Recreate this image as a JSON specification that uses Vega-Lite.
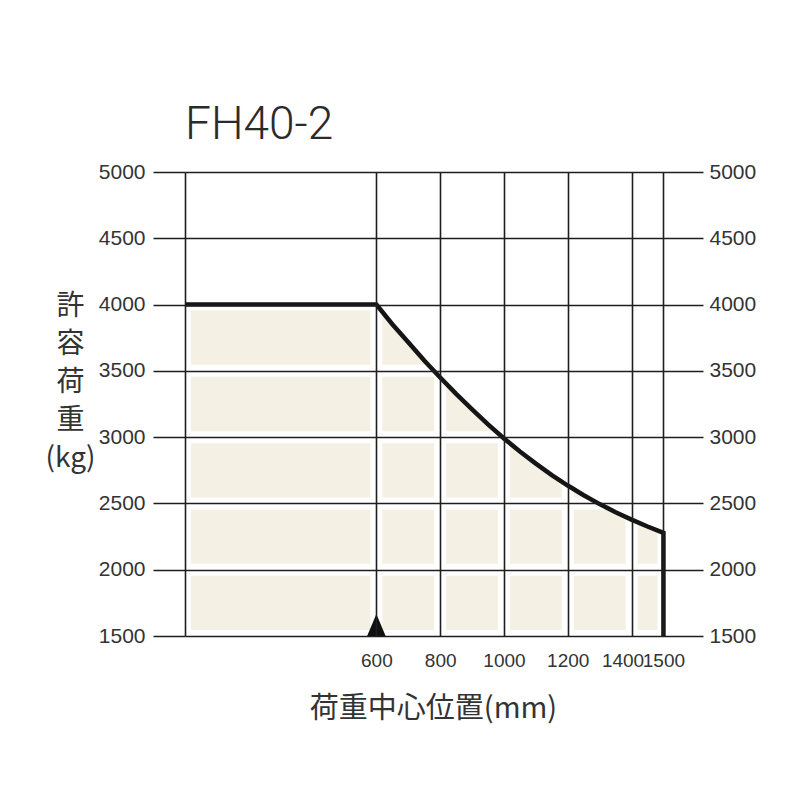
{
  "$schema": "https://vega.github.io/schema/vega-lite/v6.json",
  "width": 518,
  "height": 464,
  "autosize": {"type": "none"},
  "padding": {"left": 185, "top": 172, "right": 97, "bottom": 164},
  "background": "white",
  "title": {
    "text": "FH40-2",
    "anchor": "start",
    "frame": "group",
    "font": "Roboto",
    "fontSize": 46,
    "fontWeight": 300,
    "color": "#2b2b2b",
    "baseline": "alphabetic",
    "offset": 25,
    "dy": 49
  },
  "config": {"view": {"stroke": null}},
  "datasets": {
    "capacity": [
      {"x": 0, "load": 4000},
      {"x": 600, "load": 4000},
      {"x": 650, "load": 3852},
      {"x": 700, "load": 3715},
      {"x": 750, "load": 3578},
      {"x": 800, "load": 3450},
      {"x": 850, "load": 3326},
      {"x": 900, "load": 3210},
      {"x": 950, "load": 3096},
      {"x": 1000, "load": 2990},
      {"x": 1050, "load": 2891},
      {"x": 1100, "load": 2800},
      {"x": 1150, "load": 2714},
      {"x": 1200, "load": 2635},
      {"x": 1250, "load": 2562},
      {"x": 1300, "load": 2495},
      {"x": 1350, "load": 2434},
      {"x": 1400, "load": 2378},
      {"x": 1450, "load": 2326},
      {"x": 1500, "load": 2278},
      {"x": 1500, "load": 1500}
    ],
    "gridX": [
      {"x": 0}, {"x": 600}, {"x": 800}, {"x": 1000}, {"x": 1200}, {"x": 1400}, {"x": 1500}
    ],
    "gridY": [
      {"load": 1500}, {"load": 2000}, {"load": 2500}, {"load": 3000}, {"load": 3500}, {"load": 4000}
    ],
    "marker": [
      {"x": 600, "load": 1500}
    ]
  },
  "layer": [
    {
      "data": {"name": "capacity"},
      "mark": {"type": "area", "color": "#f4f0e3", "opacity": 1},
      "encoding": {
        "x": {
          "field": "x",
          "type": "quantitative",
          "scale": {"domain": [0, 1624], "nice": false, "zero": false},
          "axis": {
            "title": "荷重中心位置(mm)",
            "values": [0, 600, 800, 1000, 1200, 1400, 1500],
            "labelExpr": "datum.value == 0 ? '' : datum.label",
            "format": "d",
            "grid": true,
            "gridColor": "#1e1e1e",
            "gridWidth": 1.6,
            "gridOpacity": 1,
            "domain": false,
            "ticks": false,
            "tickSize": 0,
            "labelPadding": 15,
            "labelFont": "Liberation Sans",
            "labelFontSize": 19,
            "labelColor": "#333333",
            "labelFlush": false,
            "labelOverlap": false,
            "labelOffset": {"condition": {"test": "datum.value == 1400", "value": -9}, "value": 0},
            "titleFont": "Noto Sans CJK JP",
            "titleFontSize": 29,
            "titleFontWeight": "normal",
            "titleColor": "#333333",
            "titleX": 248,
            "titleY": 72,
            "titleBaseline": "middle",
            "zindex": 1
          }
        },
        "y": {
          "field": "load",
          "type": "quantitative",
          "scale": {"domain": [1500, 5000], "nice": false, "zero": false},
          "axis": {
            "orient": "left",
            "title": ["許", "容", "荷", "重", "(kg)"],
            "values": [1500, 2000, 2500, 3000, 3500, 4000, 4500, 5000],
            "format": "d",
            "grid": true,
            "gridColor": "#1e1e1e",
            "gridWidth": 1.6,
            "gridOpacity": 1,
            "domain": false,
            "ticks": true,
            "tickSize": 32,
            "tickColor": "#1e1e1e",
            "tickWidth": 1.6,
            "labelPadding": 8,
            "labelFont": "Liberation Sans",
            "labelFontSize": 21,
            "labelColor": "#333333",
            "labelFlush": false,
            "labelOverlap": false,
            "titleAngle": 0,
            "titleFont": "Noto Sans CJK JP",
            "titleFontSize": 28,
            "titleFontWeight": "normal",
            "titleColor": "#333333",
            "titleLineHeight": 38,
            "titleX": -115,
            "titleY": 120,
            "titleAlign": "center",
            "titleBaseline": "top",
            "zindex": 1
          }
        },
        "y2": {"datum": 1500}
      }
    },
    {
      "data": {"name": "gridX"},
      "mark": {"type": "rule", "color": "white", "strokeWidth": 12},
      "encoding": {
        "x": {"field": "x", "type": "quantitative", "axis": null}
      }
    },
    {
      "data": {"name": "gridY"},
      "mark": {"type": "rule", "color": "white", "strokeWidth": 12},
      "encoding": {
        "y": {
          "field": "load",
          "type": "quantitative",
          "axis": {
            "orient": "right",
            "title": null,
            "values": [1500, 2000, 2500, 3000, 3500, 4000, 4500, 5000],
            "format": "d",
            "grid": false,
            "domain": false,
            "ticks": false,
            "tickSize": 0,
            "labelPadding": 6,
            "labelFont": "Liberation Sans",
            "labelFontSize": 21,
            "labelColor": "#333333",
            "labelFlush": false,
            "labelOverlap": false
          }
        }
      }
    },
    {
      "data": {"name": "capacity"},
      "mark": {"type": "line", "color": "#151515", "strokeWidth": 4.5, "strokeJoin": "miter", "strokeCap": "butt"},
      "encoding": {
        "x": {"field": "x", "type": "quantitative", "axis": null},
        "y": {"field": "load", "type": "quantitative", "axis": null},
        "order": {"value": null}
      }
    },
    {
      "data": {"name": "marker"},
      "mark": {"type": "point", "shape": "M-0.42,0L0,-1L0.42,0Z", "size": 1936, "filled": true, "color": "#111111", "opacity": 1, "strokeWidth": 0},
      "encoding": {
        "x": {"field": "x", "type": "quantitative", "axis": null},
        "y": {"field": "load", "type": "quantitative", "axis": null}
      }
    }
  ],
  "resolve": {"axis": {"x": "independent", "y": "independent"}}
}
